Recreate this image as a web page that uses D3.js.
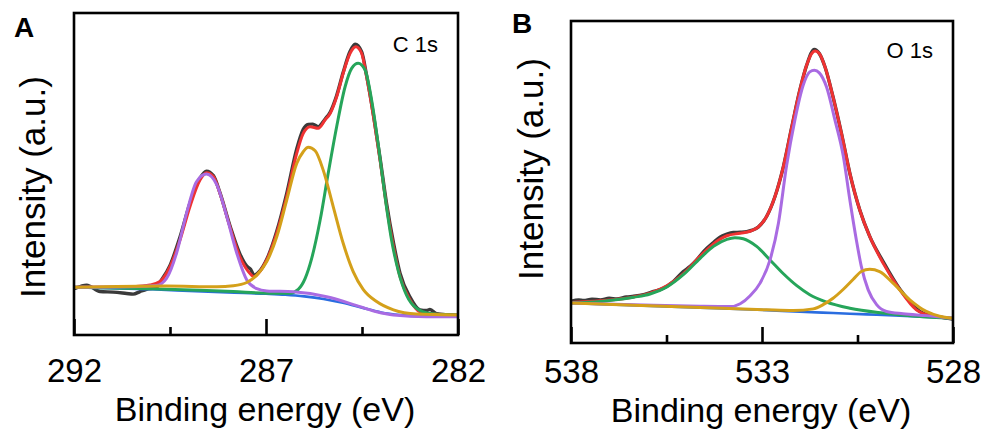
<!DOCTYPE html>
<html>
<head>
<meta charset="utf-8">
<script src="https://cdn.jsdelivr.net/npm/d3@7"></script>
<style>
  html, body { margin: 0; padding: 0; background: #fff; }
  svg { display: block; font-family: "Liberation Sans", Arial, Helvetica, sans-serif; }
</style>
</head>
<body>
<svg id="fig" width="989" height="437"></svg>
<script>
// ---------- C 1s spectrum (binding energy in eV, intensity in a.u.) ----------
const c1sTicks = [292, 287, 282];
const c1sMinorTicks = [289.5, 284.5];

const c1sRaw = [
  [291.97,14.5],[291.67,15.5],[291.32,13.5],[290.98,13.3],[290.63,12.9],[290.46,12.7],
  [290.28,13.5],[290.11,14.2],[289.85,14.8],[289.76,16.4],[289.50,21.6],[289.24,30.4],
  [288.98,41.0],[288.72,48.7],[288.55,50.9],[288.37,49.5],[288.20,44.2],[287.94,34.0],
  [287.68,25.2],[287.50,21.4],[287.40,20.4],[287.31,18.6],[287.16,19.9],[286.98,23.5],
  [286.72,32.2],[286.46,44.0],[286.20,57.8],[286.03,63.9],[285.90,65.4],[285.78,65.5],
  [285.64,64.7],[285.46,67.1],[285.33,69.2],[285.16,74.4],[284.99,81.6],[284.81,88.1],
  [284.68,90.3],[284.51,88.0],[284.38,80.6],[284.20,68.2],[284.03,55.0],[283.86,40.8],
  [283.68,28.6],[283.51,19.2],[283.25,11.8],[282.99,7.8],[282.82,7.6],[282.73,7.9],
  [282.55,6.6],[282.30,6.3],[282.02,6.0]
];
const c1sEnvelope = [
  [291.97,14.8],[291.32,14.8],[290.45,15.0],[290.02,15.5],[289.76,16.6],[289.50,21.2],
  [289.24,29.5],[288.98,39.9],[288.72,48.1],[288.55,50.4],[288.37,49.2],[288.20,44.0],
  [287.94,33.6],[287.68,24.3],[287.46,19.7],[287.31,18.1],[287.16,19.7],[286.98,23.3],
  [286.72,31.6],[286.46,43.0],[286.20,56.4],[286.03,62.6],[285.85,64.7],[285.64,64.2],
  [285.46,66.8],[285.33,68.8],[285.16,74.0],[284.99,81.3],[284.81,87.5],[284.66,89.5],
  [284.51,87.5],[284.38,80.2],[284.20,67.8],[284.03,54.3],[283.86,39.9],[283.68,27.4],
  [283.51,18.1],[283.25,10.9],[282.99,7.2],[282.64,6.5],[282.03,6.2]
];
const c1sBackground = [
  [291.97,14.8],[290.0,14.2],[289.0,13.7],[288.0,13.2],[287.0,12.8],[286.5,12.5],
  [286.0,12.0],[285.5,11.2],[285.0,10.0],[284.5,8.5],[284.0,7.0],[283.5,6.2],
  [283.0,5.8],[282.02,5.8]
];
// C–C / C=C component
const c1sPeakCC = [
  [291.97,14.8],[290.02,14.4],[288.72,13.9],[287.85,13.5],[286.98,13.0],[286.38,13.0],
  [286.16,14.2],[285.98,17.6],[285.81,23.8],[285.59,35.7],[285.38,50.2],[285.16,64.7],
  [284.94,77.1],[284.77,82.8],[284.60,84.4],[284.42,82.3],[284.25,73.0],[284.07,58.5],
  [283.90,43.0],[283.73,29.5],[283.55,19.7],[283.34,12.4],[283.08,8.3],[282.73,6.7],
  [282.02,6.2]
];
// C–O component
const c1sPeakCO = [
  [291.97,14.8],[289.59,15.2],[288.28,15.0],[287.85,15.3],[287.50,16.3],[287.24,18.6],
  [286.98,22.8],[286.72,30.5],[286.46,41.9],[286.20,53.3],[286.03,56.9],[285.90,58.3],
  [285.72,57.2],[285.51,51.2],[285.25,39.9],[284.99,28.5],[284.73,19.7],[284.47,14.2],
  [284.12,10.4],[283.68,7.8],[283.08,6.5],[282.02,6.2]
];
// O–C=O component
const c1sPeakOCO = [
  [291.97,14.8],[290.89,14.9],[289.85,15.4],[289.59,17.6],[289.33,25.4],[289.07,37.8],
  [288.81,47.6],[288.55,50.0],[288.28,46.6],[288.02,36.7],[287.76,25.4],[287.50,17.1],
  [287.24,14.4],[286.98,13.7],[286.29,13.4],[285.42,11.9],[284.55,8.8],[284.12,7.2],
  [283.68,6.2],[282.82,5.7],[282.02,5.7]
];

// ---------- O 1s spectrum ----------
const o1sTicks = [538, 533, 528];
const o1sMinorTicks = [535.5, 530.5];

const o1sRaw = [
  [538.00,13.0],[537.80,13.4],[537.67,13.2],[537.45,13.6],[537.23,13.4],[537.00,13.9],
  [536.80,13.7],[536.55,14.3],[536.36,14.5],[536.10,15.0],[535.84,16.0],[535.58,17.0],
  [535.32,19.1],[535.06,22.2],[534.88,23.8],[534.71,25.8],[534.53,28.4],[534.27,31.2],
  [534.10,32.9],[533.92,33.8],[533.75,34.3],[533.57,34.4],[533.40,34.6],[533.10,36.0],
  [532.88,39.3],[532.66,45.5],[532.44,54.8],[532.22,67.1],[532.01,78.5],[531.83,86.3],
  [531.63,91.2],[531.50,89.9],[531.35,85.7],[531.14,76.4],[530.92,65.1],[530.70,52.7],
  [530.44,41.3],[530.18,33.1],[529.83,25.3],[529.39,16.7],[529.13,12.9],[528.87,9.8],
  [528.61,8.5],[528.35,8.1],[528.02,7.4]
];
const o1sEnvelope = [
  [538.00,12.6],[537.23,13.1],[536.36,14.3],[535.93,15.5],[535.49,17.8],[535.06,21.5],
  [534.62,26.9],[534.27,30.8],[533.92,33.3],[533.57,34.1],[533.31,34.7],[533.10,36.0],
  [532.88,39.3],[532.66,45.5],[532.44,54.8],[532.22,67.1],[532.01,78.5],[531.83,86.3],
  [531.70,89.9],[531.61,90.7],[531.50,89.9],[531.35,85.7],[531.14,76.4],[530.92,65.1],
  [530.70,52.7],[530.44,41.3],[530.18,33.1],[529.83,24.8],[529.39,16.5],[528.96,10.3],
  [528.52,8.3],[528.02,7.7]
];
const o1sBackground = [
  [538.00,12.4],[534.62,11.0],[532.88,10.2],[532.01,9.7],[531.14,9.3],[530.26,8.9],
  [529.39,8.5],[528.02,7.7]
];
// C–O / O–H component
const o1sPeakOH = [
  [538.00,12.4],[537.23,12.9],[536.36,14.2],[535.93,15.2],[535.49,17.4],[535.06,21.2],
  [534.62,26.3],[534.27,30.0],[533.92,32.2],[533.71,32.7],[533.49,32.4],[533.14,30.0],
  [532.79,25.8],[532.44,21.5],[532.09,17.8],[531.75,15.0],[531.31,12.7],[530.70,10.8],
  [529.83,9.3],[528.96,8.3],[528.02,7.7]
];
// C=O component
const o1sPeakCO = [
  [538.00,12.4],[536.36,11.9],[534.62,11.4],[533.84,11.3],[533.57,12.2],[533.31,14.7],
  [533.05,18.6],[532.79,25.8],[532.57,37.2],[532.36,54.8],[532.14,69.2],[531.92,80.1],
  [531.75,84.2],[531.63,84.7],[531.50,83.9],[531.31,79.5],[531.09,69.2],[530.87,57.9],
  [530.70,44.4],[530.53,32.0],[530.40,23.8],[530.22,16.5],[530.00,11.9],[529.74,9.8],
  [529.31,9.1],[528.70,8.5],[528.02,7.7]
];
// lattice oxygen component
const o1sPeakLat = [
  [538.00,12.4],[536.36,11.7],[534.62,11.0],[532.88,10.3],[532.18,10.1],[531.66,10.6],
  [531.40,11.9],[531.14,13.9],[530.87,16.7],[530.61,19.8],[530.40,22.2],[530.18,22.9],
  [529.92,22.2],[529.57,18.6],[529.13,13.4],[528.70,9.8],[528.35,8.3],[528.02,7.7]
];

// ---------- drawing ----------
const palette = {
  raw: "#3a3a3a",
  envelope: "#ef3232",
  background: "#2a6de0",
  green: "#26a55a",
  gold: "#d4a01a",
  purple: "#a96be2"
};

const svg = d3.select("#fig");
const FONT = '"Liberation Sans", Arial, Helvetica, sans-serif';

function drawPanel(p) {
  const g = svg.append("g");
  const x = d3.scaleLinear().domain(p.xDomain).range([p.left, p.right]);
  const y = d3.scaleLinear().domain([0, 100]).range([p.bottom, p.top]);
  const line = d3.line()
    .x(d => x(d[0]))
    .y(d => y(d[1]))
    .curve(d3.curveMonotoneX);

  const clipId = "clip-" + p.id;
  g.append("clipPath").attr("id", clipId)
    .append("rect")
    .attr("x", p.left).attr("y", p.top)
    .attr("width", p.right - p.left).attr("height", p.bottom - p.top);

  const plot = g.append("g").attr("clip-path", `url(#${clipId})`);
  p.series.forEach(s => {
    plot.append("path")
      .datum(s.data)
      .attr("fill", "none")
      .attr("stroke", s.color)
      .attr("stroke-width", s.width)
      .attr("stroke-linejoin", "round")
      .attr("stroke-linecap", "round")
      .attr("d", line);
  });

  // minor ticks (inward, unlabeled)
  const minor = g.append("g")
    .attr("transform", `translate(0,${p.bottom})`)
    .call(d3.axisBottom(x).tickValues(p.minorTicks).tickSize(-8).tickFormat(""));
  minor.select(".domain").remove();
  minor.selectAll("line").attr("stroke", "#000").attr("stroke-width", 2.6);

  // major ticks with labels
  const major = g.append("g")
    .attr("transform", `translate(0,${p.bottom})`)
    .call(d3.axisBottom(x).tickValues(p.ticks).tickSize(-16).tickFormat(d3.format("d")));
  major.attr("font-family", null).attr("font-size", null);
  major.select(".domain").remove();
  major.selectAll("line").attr("stroke", "#000").attr("stroke-width", 2.6);
  major.selectAll("text")
    .attr("dy", null)
    .attr("y", p.tickLabelOffset)
    .attr("fill", "#000")
    .style("font-family", FONT)
    .style("font-size", "33px");

  // frame
  g.append("rect")
    .attr("x", p.left).attr("y", p.top)
    .attr("width", p.right - p.left).attr("height", p.bottom - p.top)
    .attr("fill", "none").attr("stroke", "#000").attr("stroke-width", 2.6);

  // axis titles
  g.append("text")
    .attr("x", (p.left + p.right) / 2 - 1)
    .attr("y", p.xTitleY)
    .attr("text-anchor", "middle")
    .style("font-family", FONT).style("font-size", "34px")
    .text("Binding energy (eV)");

  g.append("text")
    .attr("transform", `translate(${p.yTitleX},${p.yTitleY}) rotate(-90)`)
    .attr("text-anchor", "middle")
    .style("font-family", FONT).style("font-size", "35px")
    .text("Intensity (a.u.)");

  // panel letter and core-level label
  g.append("text")
    .attr("x", p.letterX).attr("y", p.letterY)
    .style("font-family", FONT).style("font-size", "28px").style("font-weight", "bold")
    .text(p.letter);

  g.append("text")
    .attr("x", p.right - 20).attr("y", p.tagY)
    .attr("text-anchor", "end")
    .style("font-family", FONT).style("font-size", "22px")
    .text(p.tag);
}

drawPanel({
  id: "c1s", letter: "A", tag: "C 1s",
  xDomain: [292, 282], left: 74, right: 458, top: 13, bottom: 335,
  ticks: c1sTicks, minorTicks: c1sMinorTicks,
  tickLabelOffset: 47, xTitleY: 421, yTitleX: 45, yTitleY: 187,
  letterX: 14, letterY: 37, tagY: 52,
  series: [
    { data: c1sRaw, color: palette.raw, width: 3.4 },
    { data: c1sEnvelope, color: palette.envelope, width: 3 },
    { data: c1sBackground, color: palette.background, width: 2.6 },
    { data: c1sPeakCC, color: palette.green, width: 3 },
    { data: c1sPeakOCO, color: palette.purple, width: 3 },
    { data: c1sPeakCO, color: palette.gold, width: 3 }
  ]
});

drawPanel({
  id: "o1s", letter: "B", tag: "O 1s",
  xDomain: [538, 528], left: 571, right: 953, top: 21, bottom: 343,
  ticks: o1sTicks, minorTicks: o1sMinorTicks,
  tickLabelOffset: 40, xTitleY: 422, yTitleX: 543, yTitleY: 169,
  letterX: 512, letterY: 33, tagY: 58,
  series: [
    { data: o1sRaw, color: palette.raw, width: 3.4 },
    { data: o1sEnvelope, color: palette.envelope, width: 3 },
    { data: o1sBackground, color: palette.background, width: 2.6 },
    { data: o1sPeakOH, color: palette.green, width: 3 },
    { data: o1sPeakCO, color: palette.purple, width: 3 },
    { data: o1sPeakLat, color: palette.gold, width: 3 }
  ]
});
</script>
</body>
</html>
